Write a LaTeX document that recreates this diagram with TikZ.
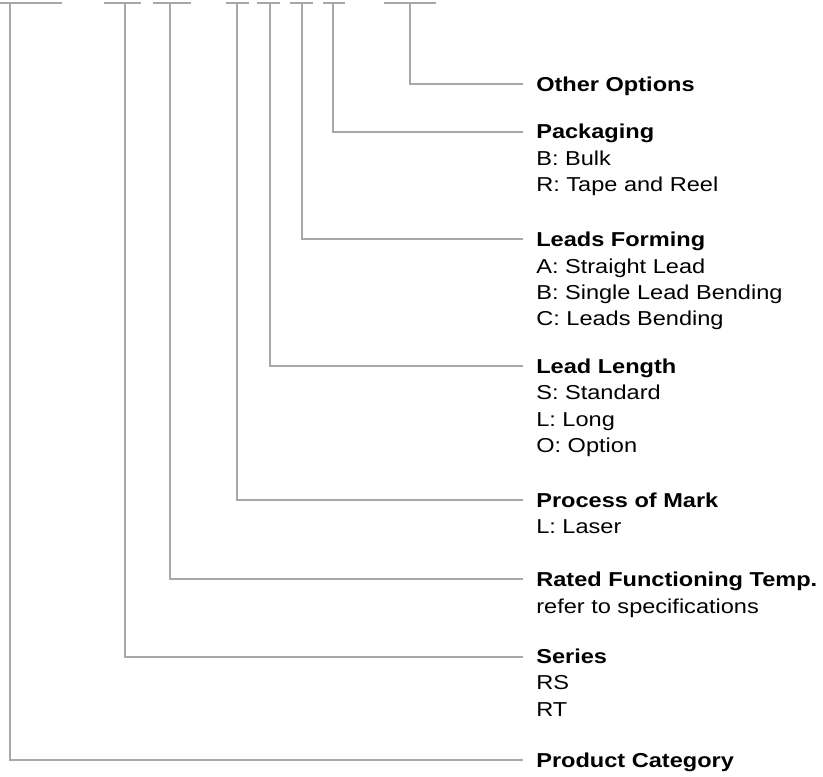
\documentclass[tikz,border=0pt]{standalone}
\usepackage{fontspec}
\setmainfont{Liberation Sans}
\usepackage{tikz}

\begin{document}
\begin{tikzpicture}[x=0.75pt,y=-0.75pt,
  conn/.style={draw={rgb,255:red,168;green,168;blue,168}, line width=1.5pt},
  hd/.style={anchor=west, inner sep=0pt, xscale=1.17, text height=10.8pt, text depth=0pt,
    font=\fontsize{15.1}{19.7}\selectfont\bfseries},
  itm/.style={anchor=north west, inner sep=0pt, xscale=1.17, align=left,
    font=\fontsize{15.1}{19.7}\selectfont}]
\useasboundingbox (0,0) rectangle (823,776);

%Shape: top bars
\draw [conn] (0,2.7) -- (62,2.7) ;
\draw [conn] (104,2.7) -- (141,2.7) ;
\draw [conn] (153,2.7) -- (191,2.7) ;
\draw [conn] (226,2.7) -- (249,2.7) ;
\draw [conn] (257,2.7) -- (280,2.7) ;
\draw [conn] (290,2.7) -- (313,2.7) ;
\draw [conn] (323,2.7) -- (345,2.7) ;
\draw [conn] (384,2.7) -- (436,2.7) ;
\coordinate (bcat) at (10,2.7);
\coordinate (bser) at (125,2.7);
\coordinate (brft) at (170,2.7);
\coordinate (bpm) at (237,2.7);
\coordinate (bll) at (269.5,2.7);
\coordinate (blf) at (302,2.7);
\coordinate (bpkg) at (333,2.7);
\coordinate (both) at (410,2.7);

% Text Node
\node [hd] (oth) at (536,84) {Other Options};
% Text Node
\node [hd] (pkg) at (536,131.7) {Packaging};
\node [itm] (pkgi) at ([yshift=-8.6pt]pkg.south west) {B: Bulk\\R: Tape and Reel};
% Text Node
\node [hd] (lf) at (536,239.3) {Leads Forming};
\node [itm] (lfi) at ([yshift=-8.6pt]lf.south west) {A: Straight Lead\\B: Single Lead Bending\\C: Leads Bending};
% Text Node
\node [hd] (ll) at (536,366) {Lead Length};
\node [itm] (lli) at ([yshift=-8.6pt]ll.south west) {S: Standard\\L: Long\\O: Option};
% Text Node
\node [hd] (pm) at (536,500) {Process of Mark};
\node [itm] (pmi) at ([yshift=-8.6pt]pm.south west) {L: Laser};
% Text Node
\node [hd] (rft) at (536,579.3) {Rated Functioning Temp.};
\node [itm] (rfti) at ([yshift=-8.6pt]rft.south west) {refer to specifications};
% Text Node
\node [hd] (ser) at (536,656.7) {Series};
\node [itm] (seri) at ([yshift=-8.6pt]ser.south west) {RS\\RT};
% Text Node
\node [hd] (cat) at (536,760) {Product Category};

%Straight Lines
\draw [conn] (both) |- ([xshift=-9.5pt]oth.west) ;
\draw [conn] (bpkg) |- ([xshift=-9.5pt]pkg.west) ;
\draw [conn] (blf) |- ([xshift=-9.5pt]lf.west) ;
\draw [conn] (bll) |- ([xshift=-9.5pt]ll.west) ;
\draw [conn] (bpm) |- ([xshift=-9.5pt]pm.west) ;
\draw [conn] (brft) |- ([xshift=-9.5pt]rft.west) ;
\draw [conn] (bser) |- ([xshift=-9.5pt]ser.west) ;
\draw [conn] (bcat) |- ([xshift=-9.5pt]cat.west) ;

\end{tikzpicture}
\end{document}
